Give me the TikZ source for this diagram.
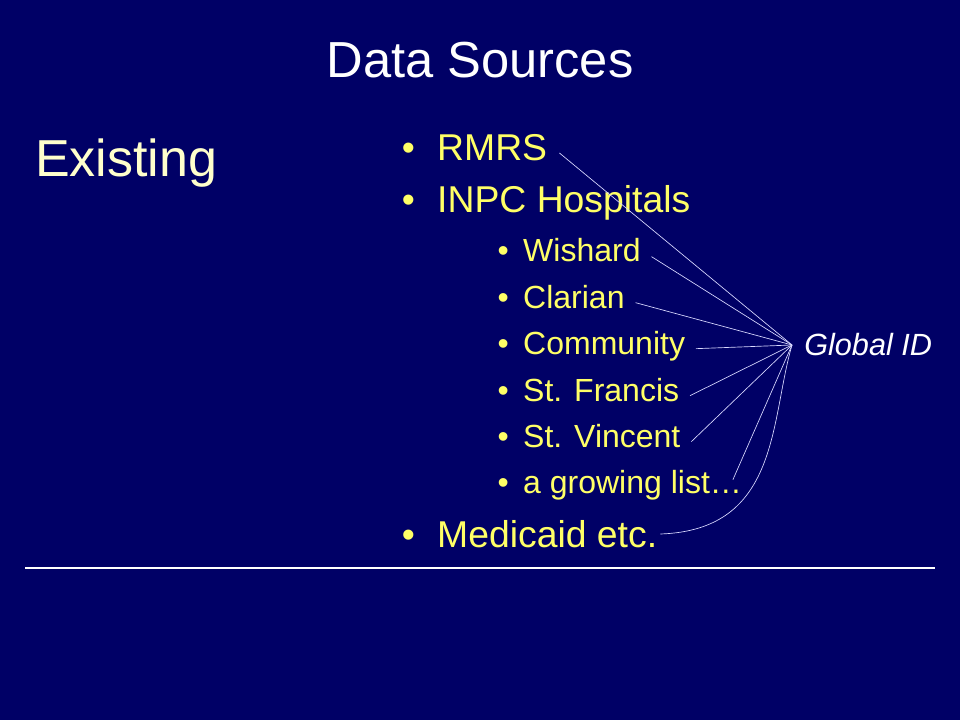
\documentclass[tikz,border=0pt]{standalone}
\usepackage{fontspec}
\setmainfont{Liberation Sans}
\usetikzlibrary{positioning}

\definecolor{slidebg}{HTML}{000066}
\definecolor{itemyellow}{HTML}{FFFF66}
\definecolor{headcream}{HTML}{FFFFCC}

\begin{document}
\begin{tikzpicture}[x=0.75pt,y=-0.75pt]
  \tikzstyle{title}=[white,font=\fontsize{38}{44}\selectfont,inner sep=0pt]
  \tikzstyle{heading}=[headcream,font=\fontsize{39}{46}\selectfont,inner sep=0pt]
  \tikzstyle{item}=[itemyellow,font=\fontsize{28}{32}\selectfont,inner sep=9pt,
                    text height=18pt,text depth=6pt,anchor=base west]
  \tikzstyle{subitem}=[itemyellow,font=\fontsize{24}{28}\selectfont,inner sep=8pt,
                       text height=14pt,text depth=6pt,anchor=base west]
  \tikzstyle{link}=[draw=white!85!blue,line width=0.5pt]

  % background and frame
  \fill[slidebg] (0,0) rectangle (960,720);
  \useasboundingbox (0,0) rectangle (960,720);

  \node [title,anchor=base] (head) at (480,78) {Data Sources};
  \node [heading,anchor=base west] (existing) at (35,177) {Existing};

  % main list
  \node [item] (rmrs) at (389.5,161) {\textbullet\hspace{16.8pt}RMRS};
  \node [item] (inpc) at (389.5,213) {\textbullet\hspace{16.8pt}INPC Hospitals};
  \node [item] (medicaid) at (389.5,547) {\textbullet\hspace{16.8pt}Medicaid etc.};

  % hospitals
  \node [subitem] (wishard) at (486.7,262) {\textbullet\hspace{10.8pt}Wishard};
  \node [subitem] (clarian) at (486.7,308) {\textbullet\hspace{10.8pt}Clarian};
  \node [subitem] (community) at (486.7,354) {\textbullet\hspace{10.8pt}Community};
  \node [subitem] (francis) at (486.7,401) {\textbullet\hspace{10.8pt}St. Francis};
  \node [subitem] (vincent) at (486.7,447) {\textbullet\hspace{10.8pt}St. Vincent};
  \node [subitem] (growing) at (486.7,493) {\textbullet\hspace{10.8pt}a growing list\ldots};

  \node [white,font=\fontsize{23}{28}\selectfont\itshape,inner sep=9pt,
         text height=20pt,text depth=5pt,anchor=west] (gid) at (792,345) {Global ID};

  % links to the global id
  \draw [link] (rmrs.east) -- (gid.west);
  \draw [link] (wishard.east) -- (gid.west);
  \draw [link] (clarian.east) -- (gid.west);
  \draw [link] (community.east) -- (gid.west);
  \draw [link] (francis.east) -- (gid.west);
  \draw [link] (vincent.east) -- (gid.west);
  \draw [link] ([shift={(-20,-8)}]growing.east) -- (gid.west);
  \draw [link] ([shift={(-9,-5)}]medicaid.east) .. controls (780,530) and (770,420) .. (gid.west);

  \draw [white,line width=1.5pt] (25,568) -- (935,568);
\end{tikzpicture}
\end{document}
